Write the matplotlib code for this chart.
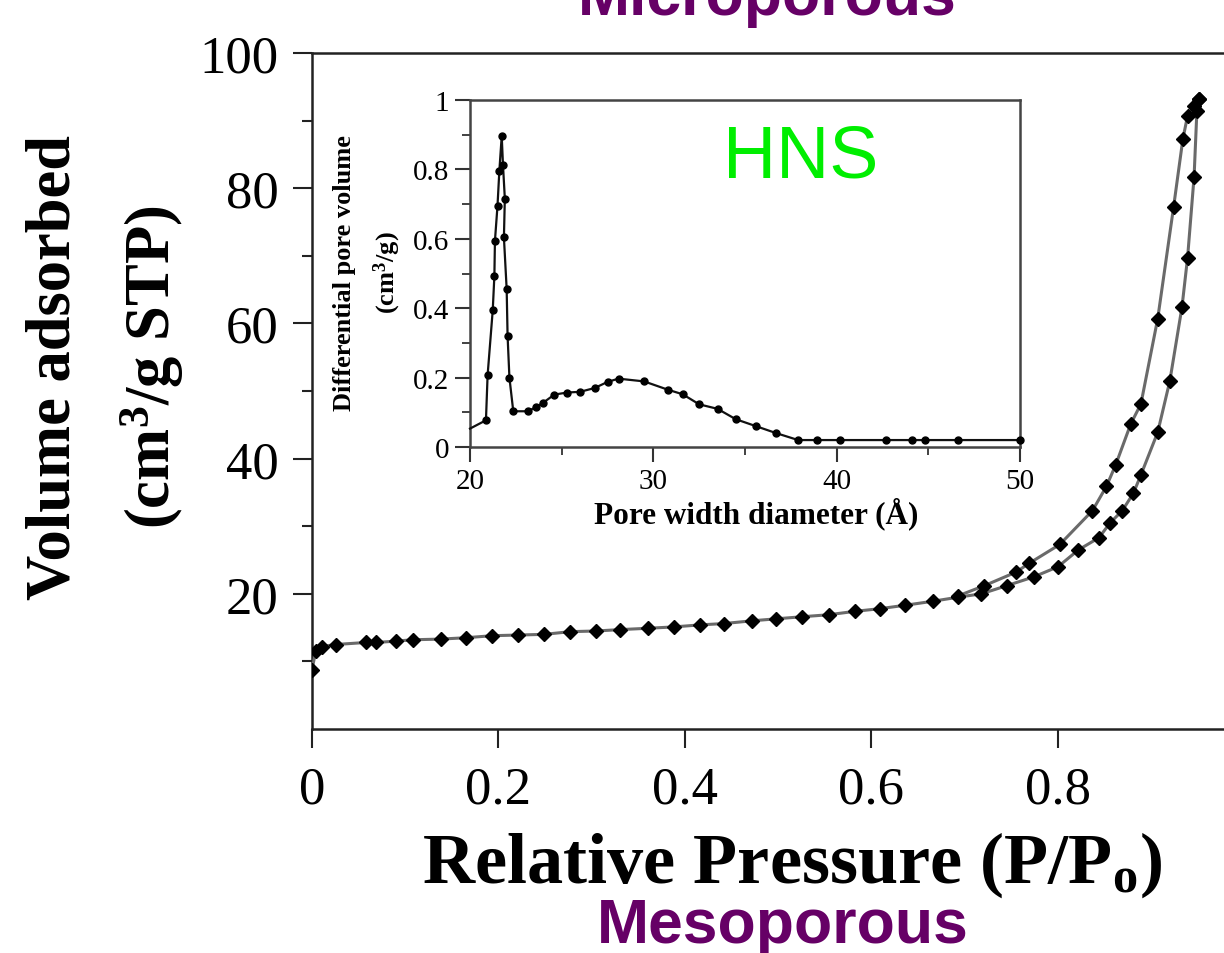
import matplotlib.pyplot as plt

plt.rcParams['font.family'] = ['Liberation Serif', 'DejaVu Serif']
plt.rcParams['mathtext.fontset'] = 'custom'
plt.rcParams['mathtext.rm'] = 'Liberation Serif'
plt.rcParams['mathtext.bf'] = 'Liberation Serif:bold'
plt.rcParams['mathtext.it'] = 'Liberation Serif:italic'

# isotherma de adsorcion (rama inferior) y desorcion (rama superior)
ads_p = [0.0, 0.004, 0.0104, 0.0254, 0.058, 0.069, 0.090, 0.108, 0.138, 0.165,
         0.193, 0.221, 0.249, 0.277, 0.305, 0.330, 0.360, 0.388, 0.416, 0.442,
         0.4715, 0.498, 0.525, 0.554, 0.582, 0.609, 0.636, 0.666, 0.693, 0.718,
         0.745, 0.774, 0.800, 0.822, 0.844, 0.856, 0.869, 0.881, 0.889, 0.907,
         0.920, 0.933, 0.939, 0.946, 0.949, 0.951]
ads_v = [8.8, 11.5, 12.2, 12.5, 12.8, 12.8, 13.0, 13.2, 13.3, 13.5,
         13.8, 13.9, 14.0, 14.4, 14.5, 14.7, 14.9, 15.1, 15.4, 15.6,
         16.0, 16.3, 16.6, 16.9, 17.4, 17.8, 18.3, 18.9, 19.5, 20.0,
         21.2, 22.5, 24.0, 26.5, 28.3, 30.5, 32.3, 34.9, 37.6, 43.9,
         51.5, 62.4, 69.7, 81.7, 91.4, 93.2]
des_p = [0.951, 0.946, 0.939, 0.934, 0.924, 0.907, 0.889, 0.878, 0.862, 0.852,
         0.837, 0.802, 0.769, 0.755, 0.721, 0.693]
des_v = [93.2, 92.2, 90.7, 87.3, 77.2, 60.7, 48.1, 45.1, 39.1, 35.9,
         32.3, 27.3, 24.5, 23.2, 21.2, 19.7]

# distribucion de tamano de poro (inset)
pore_w = [20.0, 20.87, 20.96, 21.24, 21.33, 21.36, 21.5, 21.6, 21.73, 21.8,
          21.9, 21.85, 22.0, 22.05, 22.15, 22.36, 23.15, 23.6, 24.0, 24.6,
          25.3, 26.0, 26.8, 27.5, 28.1, 29.5, 30.8, 31.6, 32.5, 33.5,
          34.5, 35.6, 36.7, 37.9, 38.9, 40.2, 42.7, 44.1, 44.8, 46.6, 50.0]
pore_v = [0.053, 0.077, 0.207, 0.394, 0.493, 0.594, 0.695, 0.795, 0.896, 0.812,
          0.716, 0.604, 0.455, 0.32, 0.2, 0.103, 0.103, 0.115, 0.128, 0.151,
          0.157, 0.159, 0.170, 0.1875, 0.197, 0.189, 0.165, 0.152, 0.123, 0.11,
          0.08, 0.06, 0.04, 0.02, 0.02, 0.02, 0.02, 0.02, 0.02, 0.02, 0.02]

main_xticks = [0, 0.2, 0.4, 0.6, 0.8]
main_xlabels = ['0', '0.2', '0.4', '0.6', '0.8']
main_yticks = [20, 40, 60, 80, 100]
inset_xticks = [20, 30, 40, 50]
inset_yticks = [0, 0.2, 0.4, 0.6, 0.8, 1.0]
inset_ylabels = ['0', '0.2', '0.4', '0.6', '0.8', '1']

fig = plt.figure(figsize=(12.24, 9.54), dpi=100)
ax = fig.add_axes([0.2549, 0.2348, 0.7618, 0.7086])

ax.plot(ads_p, ads_v, color='#6a6a6a', lw=2.2, marker='D', ms=7,
        mfc='black', mec='black', zorder=3)
ax.plot(des_p, des_v, color='#6a6a6a', lw=2.2, marker='D', ms=7,
        mfc='black', mec='black', zorder=3)

ax.set_xlim(0, 1.0)
ax.set_ylim(0, 100)
ax.set_xticks(main_xticks)
ax.set_xticklabels(main_xlabels)
ax.set_yticks(main_yticks)
ax.set_yticks([10, 30, 50, 70, 90], minor=True)
ax.tick_params(axis='both', which='major', labelsize=38, length=14, width=1.5,
               direction='out', color='#222222')
ax.tick_params(axis='y', which='minor', length=7, width=1.5, color='#222222')
ax.tick_params(axis='x', pad=12)
ax.tick_params(axis='y', pad=10)
for s in ax.spines.values():
    s.set_linewidth(1.8)
    s.set_color('#222222')

# etiquetas de los ejes principales
fig.text(55 / 1224, 1 - 367 / 954, 'Volume adsorbed', rotation=90,
         ha='center', va='center', fontsize=45, fontweight='bold')
fig.text(152 / 1224, 1 - 367 / 954, r'(cm$^{\mathbf{3}}$/g STP)', rotation=90,
         ha='center', va='center', fontsize=45, fontweight='bold')
fig.text(792 / 1224, 1 - 883 / 954, r'Relative Pressure (P/P$_{\mathbf{o}}$)',
         ha='center', va='baseline', fontsize=52, fontweight='bold')

fig.text(783 / 1224, 1 - 943 / 954, 'Mesoporous', ha='center', va='baseline',
         fontsize=45, fontweight='bold', color='#660066', family='Liberation Sans')
fig.text(767 / 1224, 1 - 15 / 954, 'Microporous', ha='center', va='baseline',
         fontsize=45, fontweight='bold', color='#660066', family='Liberation Sans')

# inset
axin = fig.add_axes([470 / 1224, 1 - 448 / 954, 550 / 1224, 347 / 954])
axin.plot(pore_w, pore_v, color='#111111', lw=1.6, marker='o', ms=5,
          mfc='black', mec='black', markevery=list(range(1, len(pore_w))),
          clip_on=False, zorder=3)
axin.set_xlim(20, 50)
axin.set_ylim(0, 1)
axin.set_xticks(inset_xticks)
axin.set_xticks([25, 35, 45], minor=True)
axin.set_yticks(inset_yticks)
axin.set_yticklabels(inset_ylabels)
axin.set_yticks([0.1, 0.3, 0.5, 0.7, 0.9], minor=True)
axin.tick_params(axis='both', which='major', labelsize=21, length=11, width=1.5,
                 direction='out', color='#333333', pad=4)
axin.tick_params(axis='both', which='minor', length=6, width=1.3,
                 direction='out', color='#333333')
for s in axin.spines.values():
    s.set_linewidth(1.8)
    s.set_color('#444444')

fig.text(345 / 1224, 1 - 273 / 954, 'Differential pore volume', rotation=90,
         ha='center', va='center', fontsize=19, fontweight='bold')
fig.text(387 / 1224, 1 - 273 / 954, r'(cm$^{\mathbf{3}}$/g)', rotation=90,
         ha='center', va='center', fontsize=19, fontweight='bold')
fig.text(756 / 1224, 1 - 523 / 954, 'Pore width diameter (Å)', ha='center',
         va='baseline', fontsize=22.5, fontweight='bold')

fig.text(723 / 1224, 1 - 178 / 954, 'HNS', ha='left', va='baseline',
         fontsize=53, color='#00ee00', family='Liberation Sans')

fig.savefig('out.png', dpi=100)
